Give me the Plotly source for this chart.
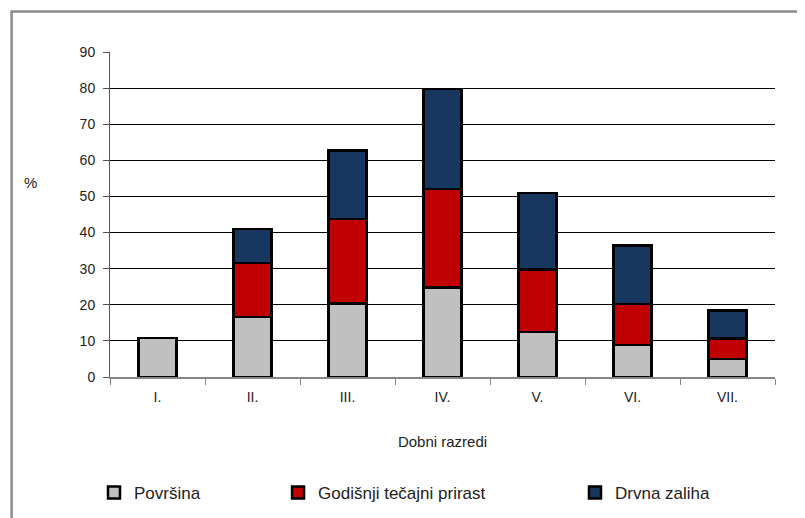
import plotly.graph_objects as go

# dobni razredi (age classes)
razredi = ["I.", "II.", "III.", "IV.", "V.", "VI.", "VII."]

# stacked shares in %
povrsina = [10.8, 16.6, 20.4, 24.8, 12.5, 8.8, 5.0]
prirast = [0.0, 15.0, 23.3, 27.3, 17.3, 11.4, 5.6]
zaliha = [0.0, 9.4, 19.0, 27.6, 21.1, 16.2, 7.8]

y_ticks = [0, 10, 20, 30, 40, 50, 60, 70, 80, 90]

# legend entries are placed one by one (container coordinates)
series = [
    ("Površina", povrsina, "#c0c0c0", "legend", 0.1079),
    ("Godišnji tečajni prirast", prirast, "#c00000", "legend2", 0.3388),
    ("Drvna zaliha", zaliha, "#17375e", "legend3", 0.7114),
]

FAMILY = "Liberation Sans, Arial, sans-serif"
tick_font = dict(family=FAMILY, size=14, color="#222222")
title_font = dict(family=FAMILY, size=15, color="#222222")
legend_font = dict(family=FAMILY, size=17, color="#222222")

fig = go.Figure()
for name, vals, color, leg, _ in series:
    fig.add_trace(go.Bar(
        x=razredi, y=vals, name=name, legend=leg,
        marker=dict(color=color, line=dict(color="black", width=2.5)),
    ))

legends = {}
for name, vals, color, leg, lx in series:
    legends[leg] = dict(
        x=lx, y=0.049, xref="container", yref="container",
        xanchor="left", yanchor="middle",
        orientation="h", bgcolor="rgba(0,0,0,0)", font=legend_font,
        itemwidth=30,
    )

# page body adds 8px, so the figure is shrunk to fit the window and
# the plot area lands at x 110..775, y 52..377 on screen
fig.update_layout(
    barmode="stack",
    bargap=0.6,
    width=797, height=510,
    margin=dict(l=102, r=30, t=44, b=141),
    paper_bgcolor="white",
    plot_bgcolor="white",
    font=tick_font,
    showlegend=True,
    **legends,
)

fig.update_xaxes(
    showgrid=False,
    showline=True, linecolor="#868686", linewidth=1.5,
    ticks="outside", tickson="boundaries", ticklen=6, tickcolor="#868686",
    tickfont=tick_font, ticklabelstandoff=6,
    title=dict(text="Dobni razredi", font=title_font, standoff=33),
)
fig.update_yaxes(
    range=[0, 90], tickvals=y_ticks,
    showgrid=True, gridcolor="black", gridwidth=1.3,
    showline=True, linecolor="#555555", linewidth=1,
    ticks="outside", ticklen=6, tickcolor="#555555",
    tickfont=tick_font, ticklabelstandoff=5, zeroline=False,
)

# "%" label beside the y axis
fig.add_annotation(
    text="%", xref="paper", yref="paper", x=-0.12, y=0.60,
    showarrow=False, font=title_font, xanchor="center",
)

# outer chart frame (right and bottom edges run off the page)
fig.add_shape(
    type="rect", xref="paper", yref="paper",
    x0=-0.148, x1=1.1, y0=-0.6, y1=1.1246,
    line=dict(color="#8c8c8c", width=2.5), layer="below",
)

fig.write_html("out.html")
